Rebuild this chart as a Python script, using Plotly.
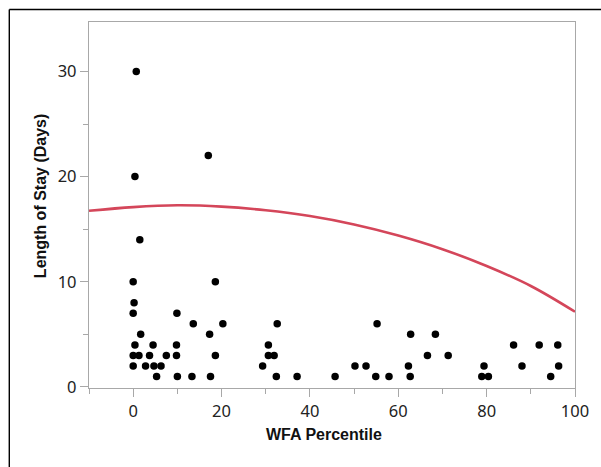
import plotly.graph_objects as go

# Scatter data: WFA percentile vs length of stay (days)
wfa = [0.7, 0.4, 1.5, 17.0, 0.0, 0.2, 0.0, 9.9, 18.6, 13.6, 20.3, 1.7, 17.3,
       0.4, 4.5, 9.8, 0.0, 1.3, 3.7, 7.5, 9.8, 18.6, 0.0, 2.8, 4.7, 6.3,
       5.3, 10.0, 13.3, 17.5, 32.6, 30.6, 30.6, 31.9, 29.3, 32.4, 37.1, 45.7,
       50.2, 52.7, 55.2, 54.9, 57.9, 62.8, 62.3, 62.7, 66.6, 68.4, 71.3,
       79.4, 78.9, 80.4, 86.1, 88.0, 91.9, 96.1, 96.3, 94.5]
los = [30, 20, 14, 22, 10, 8, 7, 7, 10, 6, 6, 5, 5,
       4, 4, 4, 3, 3, 3, 3, 3, 3, 2, 2, 2, 2,
       1, 1, 1, 1, 6, 4, 3, 3, 2, 1, 1, 1,
       2, 2, 6, 1, 1, 5, 2, 1, 3, 5, 3,
       2, 1, 1, 4, 2, 4, 4, 2, 1]

# Fitted curve
fit_x = [-10, 0, 10, 20, 30, 40, 50, 60, 70, 80, 90, 100]
fit_y = [16.75, 17.1, 17.27, 17.15, 16.8, 16.25, 15.45, 14.4, 13.1, 11.5, 9.6, 7.15]

x_ticks = [0, 20, 40, 60, 80, 100]
y_ticks = [0, 10, 20, 30]

fig = go.Figure()
fig.add_trace(go.Scatter(x=fit_x, y=fit_y, mode="lines",
                         line=dict(color="#d4465a", width=2.6, shape="spline"),
                         hoverinfo="skip", showlegend=False))
fig.add_trace(go.Scatter(x=wfa, y=los, mode="markers",
                         marker=dict(color="black", size=7.5),
                         showlegend=False))

axis_common = dict(showgrid=False, zeroline=False, showline=True, mirror=True,
                   linecolor="#a8a8a8", linewidth=1.3, ticks="outside",
                   tickcolor="#a8a8a8", tickwidth=1.3, ticklen=8,
                   ticklabeloverflow="allow",
                   tickfont=dict(family="Noto Sans", size=16.5, color="#222222"))

fig.update_xaxes(range=[-10, 100], tickvals=x_ticks,
                 minor=dict(dtick=10, tick0=0, ticks="outside", ticklen=5,
                            tickcolor="#a8a8a8", tickwidth=1.3),
                 **axis_common)
fig.update_yaxes(range=[-0.1, 34.7], tickvals=y_ticks,
                 minor=dict(dtick=5, tick0=0, ticks="outside", ticklen=5,
                            tickcolor="#a8a8a8", tickwidth=1.3),
                 **axis_common)

fig.add_annotation(text="<b>WFA Percentile</b>", xref="paper", yref="paper",
                   x=0.4827, y=-0.1557, showarrow=False,
                   font=dict(family="Liberation Sans", size=16, color="#111111"))
fig.add_annotation(text="<b>Length of Stay (Days)</b>", xref="paper", yref="paper",
                   x=-0.1222, y=0.295, textangle=-90, showarrow=False,
                   font=dict(family="Liberation Sans", size=16, color="#111111"))

# outer frame (only top and left edges are visible)
fig.add_shape(type="line", xref="paper", yref="paper",
              x0=-0.1640, x1=1.1, y0=1.0342, y1=1.0342,
              line=dict(color="black", width=1.4), layer="below")
fig.add_shape(type="line", xref="paper", yref="paper",
              x0=-0.1640, x1=-0.1640, y0=-0.3, y1=1.0342,
              line=dict(color="black", width=1.4), layer="below")

fig.update_layout(width=601, height=467, autosize=False,
                  margin=dict(l=89, r=21, t=22, b=79),
                  paper_bgcolor="white", plot_bgcolor="white")

fig.write_html("out.html",
               config={"displayModeBar": False, "responsive": False},
               post_script="document.body.style.margin='0';"
                           "document.body.style.overflow='hidden';")
